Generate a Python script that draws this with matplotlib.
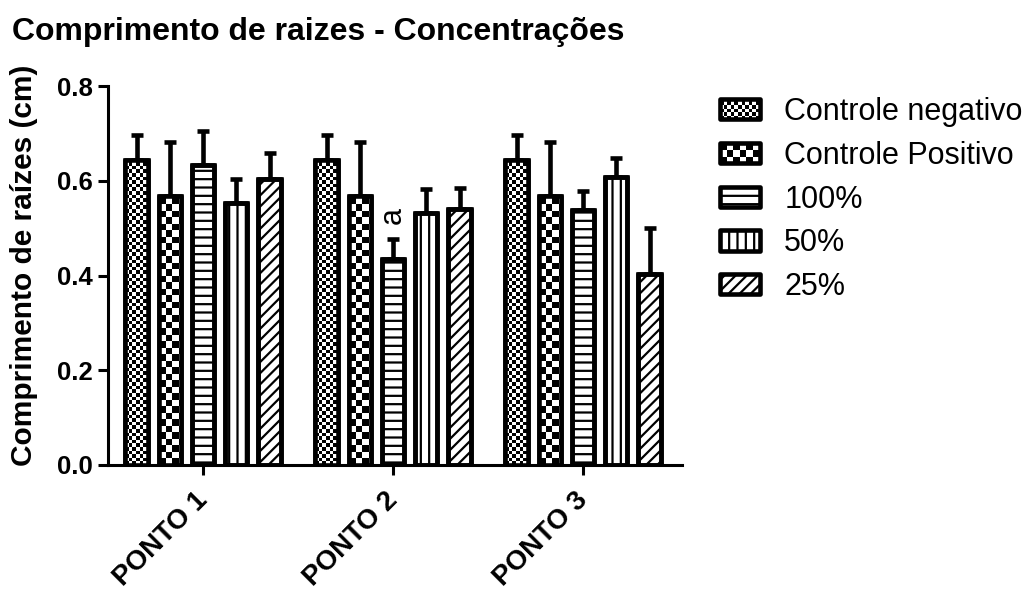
import numpy as np
import matplotlib
matplotlib.use("Agg")
import matplotlib.pyplot as plt
import matplotlib.transforms as mtransforms
from matplotlib.patches import Rectangle
from matplotlib.legend_handler import HandlerBase

plt.rcParams['font.family'] = ['Liberation Sans', 'DejaVu Sans']
plt.rcParams['hatch.linewidth'] = 1.6

# --- Data: mean root length (cm) and upper error per treatment ---
pontos = ['PONTO 1', 'PONTO 2', 'PONTO 3']
tratamentos = ['Controle negativo', 'Controle Positivo', '100%', '50%', '25%']
neg = [0.643, 0.643, 0.643]
neg_err = [0.053, 0.053, 0.053]
pos = [0.568, 0.568, 0.568]
pos_err = [0.113, 0.113, 0.113]
c100 = [0.633, 0.434, 0.539]
c100_err = [0.072, 0.042, 0.040]
c50 = [0.552, 0.531, 0.608]
c50_err = [0.051, 0.051, 0.041]
c25 = [0.603, 0.540, 0.403]
c25_err = [0.055, 0.044, 0.098]
medias = [neg, pos, c100, c50, c25]
erros = [neg_err, pos_err, c100_err, c50_err, c25_err]
# significance mark over 100% at PONTO 2
letra = 'a'
letra_ponto = 1
letra_y = 0.526

# fill style per treatment: ('checker', cell px) or ('hatch', pattern)
estilos = [('checker', 3.6), ('checker', 6.5), ('hatch', '--'), ('hatch', '||'), ('hatch', '///')]

W, H, DPI = 10.3, 5.93, 100
fig = plt.figure(figsize=(W, H), dpi=DPI)
ax_rect = [108 / 1030, 1 - 465 / 593, (682 - 108) / 1030, (465 - 86) / 593]
ax = fig.add_axes(ax_rect)
xmin, xmax = -0.5, 2.521
ymin, ymax = 0.0, 0.8
px_x = W * DPI * ax_rect[2] / (xmax - xmin)
px_y = H * DPI * ax_rect[3] / (ymax - ymin)

step = 0.175
larg = 0.118
lw_edge = 3.3
x = np.arange(len(pontos))


def checker_image(ax, bar, cell):
    x0, y0 = bar.get_x(), bar.get_y()
    w, h = bar.get_width(), bar.get_height()
    ncol = int(np.ceil(w * px_x / cell)) + 1
    nrow = int(np.ceil(h * px_y / cell)) + 1
    ii, jj = np.indices((nrow, ncol))
    arr = ((ii + jj) % 2).astype(float)
    ext = (x0, x0 + ncol * cell / px_x, y0, y0 + nrow * cell / px_y)
    im = ax.imshow(arr, extent=ext, origin='lower', cmap='gray', vmin=0, vmax=1,
                   interpolation='nearest', aspect='auto', zorder=2.5)
    im.set_clip_path(bar)


for k, (m, e, est) in enumerate(zip(medias, erros, estilos)):
    pos_x = x + (k - 2) * step
    ax.errorbar(pos_x, m, yerr=[np.zeros(len(m)), e], fmt='none', ecolor='black',
                elinewidth=3.3, capsize=4.6, capthick=3.3, zorder=1)
    hatch = est[1] if est[0] == 'hatch' else None
    bars = ax.bar(pos_x, m, width=larg, color='white', edgecolor='black',
                  linewidth=lw_edge, hatch=hatch, zorder=2)
    if est[0] == 'checker':
        for b in bars:
            checker_image(ax, b, est[1])
    ax.bar(pos_x, m, width=larg, fill=False, edgecolor='black', linewidth=lw_edge,
           joinstyle='round', zorder=3)

ax.text(letra_ponto, letra_y, letra, rotation=90, ha='center', va='center', fontsize=22)

ax.set_xlim(xmin, xmax)
ax.set_ylim(ymin, ymax)
ax.set_yticks([0.0, 0.2, 0.4, 0.6, 0.8])
ax.set_yticklabels(['0.0', '0.2', '0.4', '0.6', '0.8'], fontsize=18.5, fontweight='bold')
ax.set_xticks(x)
ax.set_xticklabels(pontos, fontsize=20, fontweight='bold', rotation=45,
                   ha='right', rotation_mode='anchor')
ax.tick_params(axis='both', direction='out', length=7, width=2.2, pad=4)
ax.tick_params(axis='x', pad=9)
desloc = mtransforms.ScaledTranslation(-6 / 72, 0, fig.dpi_scale_trans)
for lab in ax.get_xticklabels():
    lab.set_transform(lab.get_transform() + desloc)
for s in ['top', 'right']:
    ax.spines[s].set_visible(False)
for s in ['left', 'bottom']:
    ax.spines[s].set_linewidth(2.2)

fig.text(12 / 1030, 1 - 40 / 593, 'Comprimento de raizes - Concentrações',
         fontsize=23, fontweight='bold', ha='left', va='baseline')
fig.text(24 / 1030, 1 - 265 / 593, 'Comprimento de raízes (cm)', rotation=90,
         fontsize=21.5, fontweight='bold', ha='center', va='center')


class HandlerPadrao(HandlerBase):
    """Legend key: thick rounded box with checker or hatch fill."""

    def __init__(self, estilo):
        super().__init__()
        self.estilo = estilo

    def create_artists(self, legend, orig_handle, xdescent, ydescent, width, height,
                       fontsize, trans):
        x0, y0 = -xdescent, -ydescent
        arts = []
        if self.estilo[0] == 'checker':
            cell = self.estilo[1] * 72 / DPI
            arts.append(Rectangle((x0, y0), width, height, facecolor='white',
                                  edgecolor='none', transform=trans))
            ncol = int(np.ceil(width / cell))
            nrow = int(np.ceil(height / cell))
            for i in range(nrow):
                for j in range(ncol):
                    if (i + j) % 2 == 0:
                        cw = min(cell, width - j * cell)
                        ch = min(cell, height - i * cell)
                        arts.append(Rectangle((x0 + j * cell, y0 + i * cell), cw, ch,
                                              facecolor='black', edgecolor='none',
                                              transform=trans))
            arts.append(Rectangle((x0, y0), width, height, fill=False, edgecolor='black',
                                  linewidth=lw_edge, joinstyle='round', transform=trans))
        else:
            arts.append(Rectangle((x0, y0), width, height, facecolor='white',
                                  edgecolor='black', hatch=self.estilo[1],
                                  linewidth=lw_edge, joinstyle='round', transform=trans))
        return arts


handles = [Rectangle((0, 0), 1, 1) for _ in tratamentos]
leg = fig.legend(handles, tratamentos, loc='upper left',
                 bbox_to_anchor=(720 / 1030, 1 - 97 / 593), frameon=False,
                 fontsize=22, handlelength=1.3, handleheight=0.65,
                 handletextpad=0.8, labelspacing=0.45, borderpad=0, borderaxespad=0,
                 handler_map={h: HandlerPadrao(est) for h, est in zip(handles, estilos)})

fig.savefig('out.png', dpi=DPI)
